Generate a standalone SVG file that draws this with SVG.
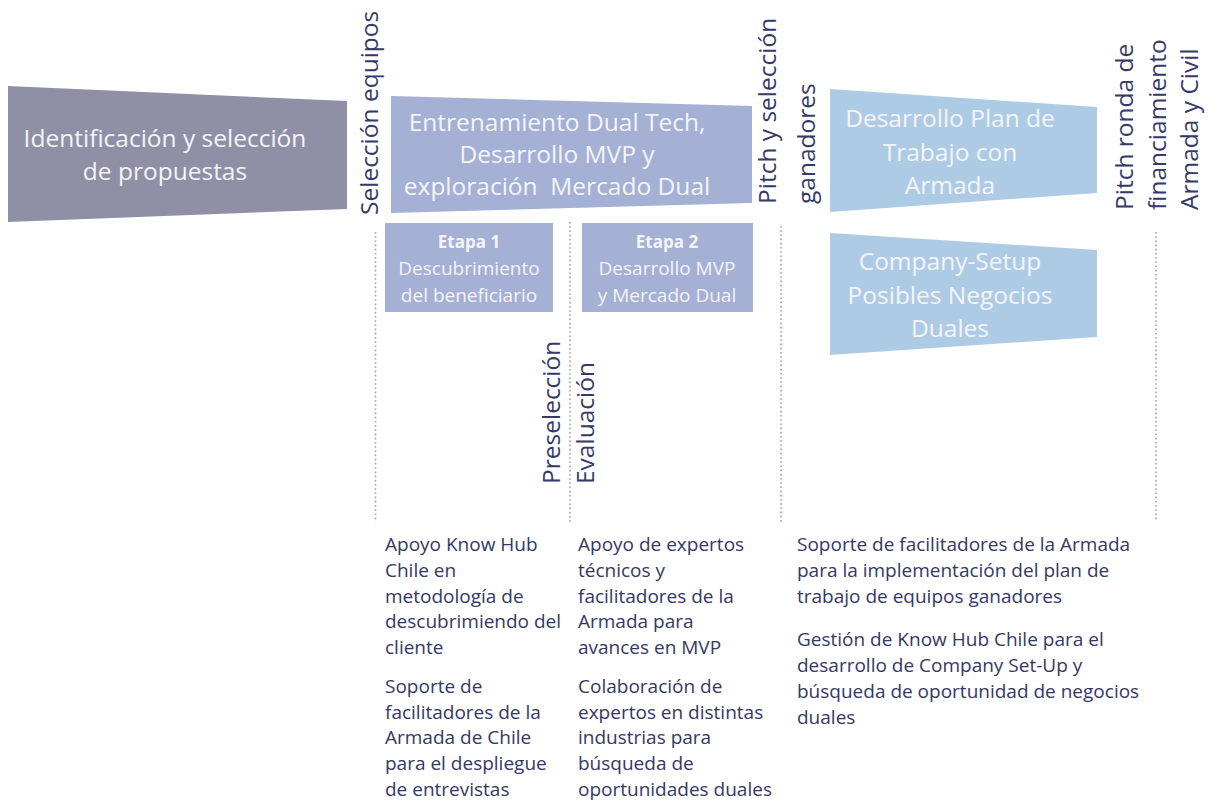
<svg xmlns="http://www.w3.org/2000/svg" width="1209" height="804" viewBox="0 0 1209 804">
<style>
text{font-family:"Open Sans","Noto Sans",sans-serif}
.in{fill:#f4f4f8;font-size:24.5px;text-anchor:middle}
.et{fill:#f4f4f8;font-size:19px;text-anchor:middle}
.eb{fill:#f4f4f8;font-size:17px;font-weight:bold;text-anchor:middle}
.vt{fill:#353a68;font-size:24.5px}
.bt{fill:#343866;font-size:19px}
.dot{stroke:#a0a0a0;stroke-width:1.6;stroke-dasharray:1.6 2.6;fill:none}
.c1{fill:#8f90a6}
.c2{fill:#a4b0d4}
.c3{fill:#aecbe5}
</style>
<g id="connectors">
<line class="dot" x1="375.5" y1="232" x2="375.5" y2="522"/>
<line class="dot" x1="570" y1="222" x2="570" y2="522"/>
<line class="dot" x1="781" y1="226" x2="781" y2="523"/>
<line class="dot" x1="1156" y1="232" x2="1156" y2="521"/>
</g>
<g id="n-identificacion">
<polygon class="c1" points="8,86 347,101 347,209 8,222"/>
<text class="in" x="165" y="147">Identificación y selección</text>
<text class="in" x="165" y="180">de propuestas</text>
</g>
<g id="n-entrenamiento">
<polygon class="c2" points="391,96 752,106 752,203 391,213"/>
<text class="in" x="557" y="131">Entrenamiento Dual Tech,</text>
<text class="in" x="557" y="163">Desarrollo MVP y</text>
<text class="in" x="557" y="195">exploración&#160; Mercado Dual</text>
</g>
<g id="n-etapa1">
<rect class="c2" x="385" y="223" width="168" height="89"/>
<text class="eb" x="469" y="248">Etapa 1</text>
<text class="et" x="469" y="275">Descubrimiento</text>
<text class="et" x="469" y="302">del beneficiario</text>
</g>
<g id="n-etapa2">
<rect class="c2" x="582" y="223" width="171" height="89"/>
<text class="eb" x="667" y="248">Etapa 2</text>
<text class="et" x="667" y="275">Desarrollo MVP</text>
<text class="et" x="667" y="302">y Mercado Dual</text>
</g>
<g id="n-plan">
<polygon class="c3" points="830,89 1097,107 1097,193 830,212"/>
<text class="in" x="950" y="127">Desarrollo Plan de</text>
<text class="in" x="950" y="161">Trabajo con</text>
<text class="in" x="950" y="194">Armada</text>
</g>
<g id="n-company">
<polygon class="c3" points="830,233 1097,250 1097,337 830,355"/>
<text class="in" x="950" y="270">Company-Setup</text>
<text class="in" x="950" y="304">Posibles Negocios</text>
<text class="in" x="950" y="337">Duales</text>
</g>
<g id="n-seleccion">
<text class="vt" transform="translate(378,215) rotate(-90)">Selección equipos</text>
</g>
<g id="n-preseleccion">
<text class="vt" transform="translate(560,484) rotate(-90)">Preselección</text>
<text class="vt" transform="translate(594,484) rotate(-90)">Evaluación</text>
</g>
<g id="n-pitch">
<text class="vt" transform="translate(776,204) rotate(-90)">Pitch y selección</text>
<text class="vt" transform="translate(815,204) rotate(-90)">ganadores</text>
</g>
<g id="n-pitch-ronda">
<text class="vt" transform="translate(1133,210) rotate(-90)">Pitch ronda de</text>
<text class="vt" transform="translate(1166,210) rotate(-90)">financiamiento</text>
<text class="vt" transform="translate(1198,210) rotate(-90)">Armada y Civil</text>
</g>
<g id="n-apoyo1">
<text class="bt" x="385" y="551">Apoyo Know Hub</text>
<text class="bt" x="385" y="577">Chile en</text>
<text class="bt" x="385" y="603">metodología de</text>
<text class="bt" x="385" y="628">descubrimiendo del</text>
<text class="bt" x="385" y="654">cliente</text>
<text class="bt" x="385" y="693">Soporte de</text>
<text class="bt" x="385" y="719">facilitadores de la</text>
<text class="bt" x="385" y="744">Armada de Chile</text>
<text class="bt" x="385" y="770">para el despliegue</text>
<text class="bt" x="385" y="796">de entrevistas</text>
</g>
<g id="n-apoyo2">
<text class="bt" x="578" y="551">Apoyo de expertos</text>
<text class="bt" x="578" y="577">técnicos y</text>
<text class="bt" x="578" y="603">facilitadores de la</text>
<text class="bt" x="578" y="628">Armada para</text>
<text class="bt" x="578" y="654">avances en MVP</text>
<text class="bt" x="578" y="693">Colaboración de</text>
<text class="bt" x="578" y="719">expertos en distintas</text>
<text class="bt" x="578" y="744">industrias para</text>
<text class="bt" x="578" y="770">búsqueda de</text>
<text class="bt" x="578" y="796">oportunidades duales</text>
</g>
<g id="n-soporte3">
<text class="bt" x="797" y="551">Soporte de facilitadores de la Armada</text>
<text class="bt" x="797" y="577">para la implementación del plan de</text>
<text class="bt" x="797" y="603">trabajo de equipos ganadores</text>
<text class="bt" x="797" y="646">Gestión de Know Hub Chile para el</text>
<text class="bt" x="797" y="672">desarrollo de Company Set-Up y</text>
<text class="bt" x="797" y="698">búsqueda de oportunidad de negocios</text>
<text class="bt" x="797" y="724">duales</text>
</g>
</svg>
